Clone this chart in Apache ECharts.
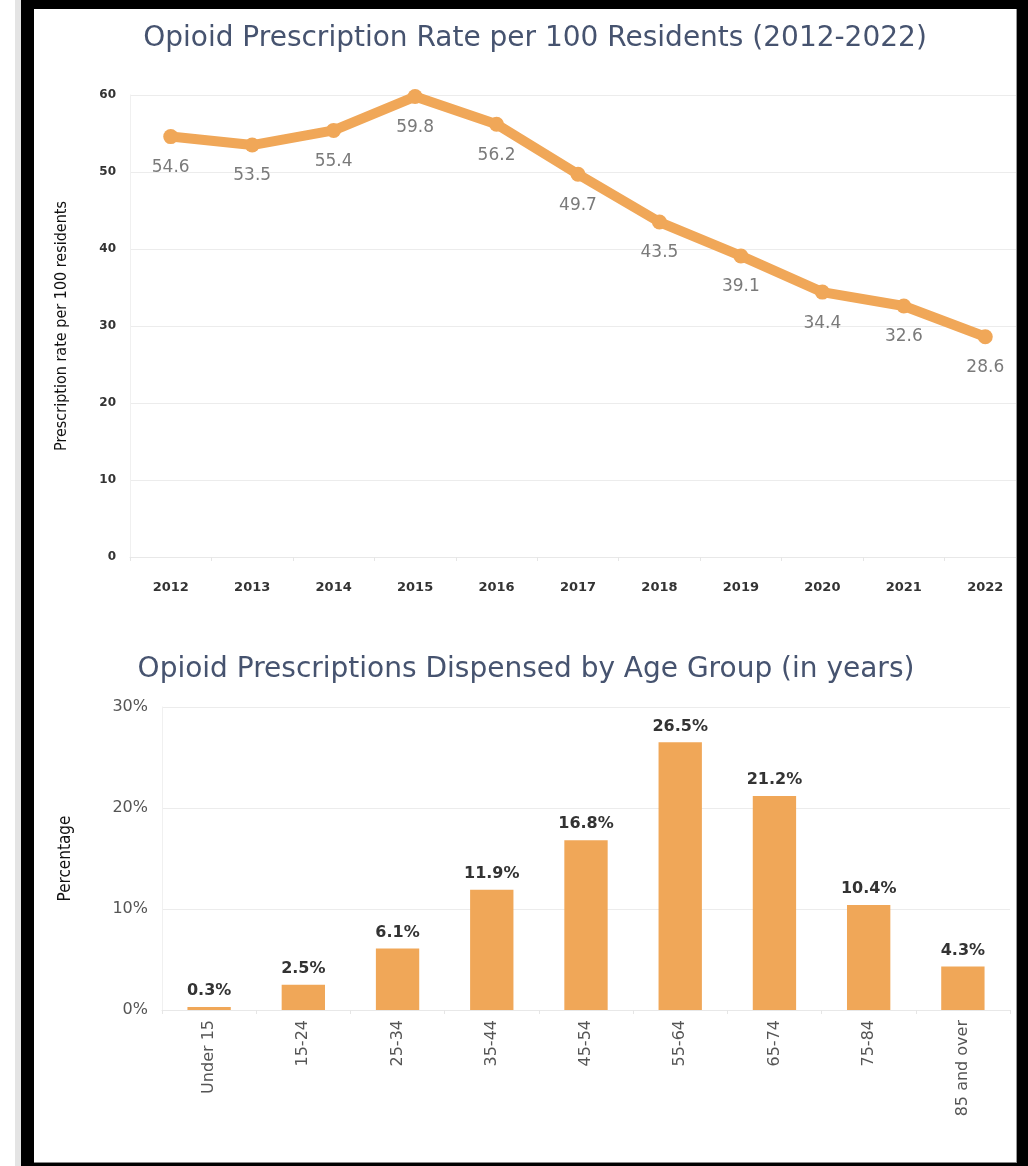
<!DOCTYPE html>
<html>
<head>
<meta charset="utf-8">
<script src="https://cdn.jsdelivr.net/npm/echarts@6/dist/echarts.min.js"></script>
<style>
html,body{margin:0;padding:0;background:#fff;}
#chart{position:absolute;left:0;top:0;width:1028px;height:1166px;}
.f{position:absolute;pointer-events:none;z-index:10;}
</style>
</head>
<body>
<div id="chart"></div>
<div class="f" style="left:15px;top:0;width:6px;height:1166px;background:#e4e4e4"></div>
<div class="f" style="left:21px;top:0;width:13px;height:1166px;background:#000"></div>
<div class="f" style="left:21px;top:0;width:1007px;height:9px;background:#000"></div>
<div class="f" style="left:1016px;top:9px;width:1px;height:1154px;background:#999"></div>
<div class="f" style="left:1017px;top:0;width:11px;height:1166px;background:#000"></div>
<div class="f" style="left:34px;top:1162px;width:983px;height:1px;background:#888"></div>
<div class="f" style="left:21px;top:1163px;width:1007px;height:3px;background:#000"></div>
<script>
const years = ['2012','2013','2014','2015','2016','2017','2018','2019','2020','2021','2022'];
const rates = [54.6, 53.5, 55.4, 59.8, 56.2, 49.7, 43.5, 39.1, 34.4, 32.6, 28.6];
const ageGroups = ['Under 15','15-24','25-34','35-44','45-54','55-64','65-74','75-84','85 and over'];
const agePercent = [0.3, 2.5, 6.1, 11.9, 16.8, 26.5, 21.2, 10.4, 4.3];
const rateTicks = [0, 10, 20, 30, 40, 50, 60];
const pctTicks = [0, 10, 20, 30];

const ORANGE = '#f0a758';
const chart = echarts.init(document.getElementById('chart'), null, {renderer:'canvas'});
const titleStyle = {fontFamily:'DejaVu Sans', fontSize:28, fontWeight:'normal', color:'#46536f', letterSpacing:3.4};
chart.setOption({
  animation:false,
  backgroundColor:'#fff',
  title:[
    {text:'Opioid Prescription Rate per 100 Residents (2012-2022)', left:530, top:20, textAlign:'center', textStyle:titleStyle},
    {text:'Opioid Prescriptions Dispensed by Age Group (in years)', left:521, top:651, textAlign:'center', textStyle:titleStyle}
  ],
  grid:[
    {left:130, right:2, top:95, bottom:609, containLabel:false},
    {left:162, right:18, top:707, bottom:156, containLabel:false}
  ],
  xAxis:[
    {type:'category', gridIndex:0, data:years, offset:13, boundaryGap:true,
     axisLine:{show:true, lineStyle:{color:'#e8e8e8'}},
     axisTick:{show:true, length:4, lineStyle:{color:'#e6e6e6'}},
     axisLabel:{color:'#333', fontFamily:'DejaVu Sans', fontSize:13, fontWeight:'bold', margin:11}},
    {type:'category', gridIndex:1, data:ageGroups, boundaryGap:true,
     axisLine:{show:true, lineStyle:{color:'#e8e8e8'}},
     axisTick:{show:true, length:4, lineStyle:{color:'#e6e6e6'}},
     axisLabel:{rotate:90, color:'#555', fontFamily:'DejaVu Sans', fontSize:16, margin:10}}
  ],
  yAxis:[
    {type:'value', gridIndex:0, min:rateTicks[0], max:rateTicks[rateTicks.length-1], interval:10,
     name:'Prescription rate per 100 residents', nameLocation:'middle', nameGap:60, nameRotate:90,
     nameTextStyle:{fontFamily:'DejaVu Sans Condensed', fontSize:16, color:'#111', letterSpacing:0},
     axisLine:{show:true, lineStyle:{color:'#f0f0f0'}},
     axisTick:{show:false},
     splitLine:{show:true, showMinLine:false, lineStyle:{color:'#ececec'}},
     axisLabel:{color:'#333', fontFamily:'DejaVu Sans', fontSize:12, fontWeight:'bold', margin:14}},
    {type:'value', gridIndex:1, min:pctTicks[0], max:pctTicks[pctTicks.length-1], interval:10,
     name:'Percentage', nameLocation:'middle', nameGap:88, nameRotate:90,
     nameTextStyle:{fontFamily:'DejaVu Sans Condensed', fontSize:17, color:'#111'},
     axisLine:{show:true, lineStyle:{color:'#f0f0f0'}},
     axisTick:{show:false},
     splitLine:{show:true, showMinLine:false, lineStyle:{color:'#ececec'}},
     axisLabel:{color:'#555', fontFamily:'DejaVu Sans', fontSize:16, margin:14, formatter:v=>v+'%'}}
  ],
  series:[
    {type:'line', xAxisIndex:0, yAxisIndex:0, data:rates,
     lineStyle:{color:ORANGE, width:10, cap:'round', join:'round'},
     itemStyle:{color:ORANGE},
     symbol:'circle', symbolSize:15,
     label:{show:true, position:'bottom', distance:15, color:'#7a7a7a', fontFamily:'DejaVu Sans', fontSize:17, formatter:p=>p.value.toFixed(1)}},
    {type:'bar', xAxisIndex:1, yAxisIndex:1, data:agePercent, barWidth:'46%',
     itemStyle:{color:ORANGE},
     label:{show:true, position:'top', distance:8, color:'#333', fontFamily:'DejaVu Sans', fontSize:16, fontWeight:'bold', letterSpacing:0.5, formatter:p=>p.value.toFixed(1)+'%'}}
  ]
});
</script>
</body>
</html>
